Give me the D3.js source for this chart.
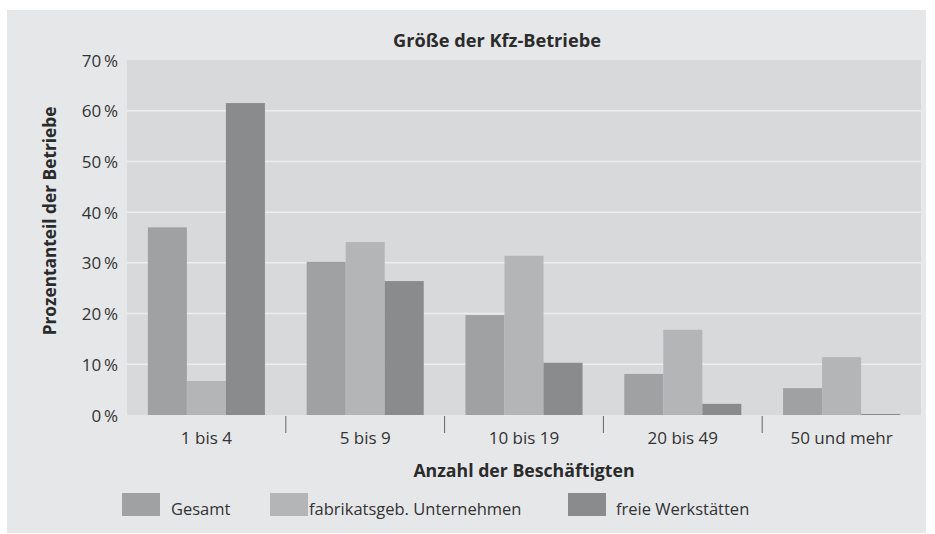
<!DOCTYPE html>
<html>
<head>
<meta charset="utf-8">
<script src="https://cdn.jsdelivr.net/npm/d3@7"></script>
<style>
  body { margin: 0; background: #fff; }
  text { font-family: "Open Sans", sans-serif; fill: #2b2b2b; }
</style>
</head>
<body>
<div id="chart"></div>
<script>
// data
var categories = ["1 bis 4", "5 bis 9", "10 bis 19", "20 bis 49", "50 und mehr"];
var seriesNames = ["Gesamt", "fabrikatsgeb. Unternehmen", "freie Werkstätten"];
var gesamt = [37.0, 30.2, 19.7, 8.1, 5.3];
var fabrikat = [6.7, 34.1, 31.4, 16.8, 11.4];
var freie = [61.5, 26.4, 10.3, 2.2, 0.2];
var yTicks = [0, 10, 20, 30, 40, 50, 60, 70];

var colors = ["#a0a1a3", "#b4b5b7", "#8a8b8d"];
var seriesValues = [gesamt, fabrikat, freie];

var W = 935, H = 534;
var margin = {top: 60, right: 14, bottom: 119, left: 127};
var width = 921 - margin.left,
    height = 415 - margin.top;

var svg = d3.select("#chart").append("svg")
  .attr("width", W)
  .attr("height", H);

// outer panel
svg.append("rect")
  .attr("x", 7).attr("y", 10)
  .attr("width", 919).attr("height", 523)
  .attr("fill", "#e6e7e9");

var g = svg.append("g")
  .attr("transform", "translate(" + margin.left + "," + margin.top + ")");

var x0 = d3.scaleBand()
  .domain(categories)
  .range([0, width])
  .paddingInner(0)
  .paddingOuter(0);

var x1 = d3.scaleBand()
  .domain(seriesNames)
  .range([0, x0.bandwidth()])
  .paddingInner(0)
  .paddingOuter(0.535);

var y = d3.scaleLinear()
  .domain([0, 70])
  .range([height, 0]);

// plot background
g.append("rect")
  .attr("width", width).attr("height", height)
  .attr("fill", "#d8d9db");

// gridlines
g.selectAll(".grid")
  .data(yTicks.filter(function(d) { return d > 0 && d < 70; }))
  .join("line")
  .attr("x1", 0).attr("x2", width)
  .attr("y1", function(d) { return y(d); })
  .attr("y2", function(d) { return y(d); })
  .attr("stroke", "#ecedee")
  .attr("stroke-width", 1.5);

// bars
var rows = categories.map(function(c, i) {
  return { cat: c, vals: seriesNames.map(function(s, j) { return {key: s, idx: j, v: seriesValues[j][i]}; }) };
});

g.selectAll(".grp")
  .data(rows)
  .join("g")
  .attr("transform", function(d) { return "translate(" + x0(d.cat) + ",0)"; })
  .selectAll("rect")
  .data(function(d) { return d.vals; })
  .join("rect")
  .attr("x", function(d) { return x1(d.key); })
  .attr("width", x1.bandwidth())
  .attr("y", function(d) { return y(d.v); })
  .attr("height", function(d) { return height - y(d.v); })
  .attr("fill", function(d) { return colors[d.idx]; });

// y axis
var yAxis = g.append("g")
  .call(d3.axisLeft(y).tickValues(yTicks).tickSize(0).tickPadding(9)
    .tickFormat(function(d) { return d + "\u2009%"; }));
yAxis.select(".domain").remove();
yAxis.selectAll("text")
  .style("font-size", "17px")
  .attr("dy", "0.36em")
  .style("fill", "#333");

// x axis labels
var xAxis = g.append("g")
  .attr("transform", "translate(0," + height + ")")
  .call(d3.axisBottom(x0).tickSize(0).tickPadding(17));
xAxis.select(".domain").remove();
xAxis.selectAll("text")
  .style("font-size", "17px")
  .style("fill", "#333");

// separators between categories
g.selectAll(".sep")
  .data(categories.slice(1))
  .join("line")
  .attr("x1", function(d) { return x0(d); })
  .attr("x2", function(d) { return x0(d); })
  .attr("y1", height + 1)
  .attr("y2", height + 18)
  .attr("stroke", "#666")
  .attr("stroke-width", 1);

// title
svg.append("text")
  .attr("x", 497).attr("y", 47)
  .attr("text-anchor", "middle")
  .style("font-size", "18.2px")
  .style("font-weight", "bold")
  .text("Größe der Kfz-Betriebe");

// x title
svg.append("text")
  .attr("x", margin.left + width / 2).attr("y", 477)
  .attr("text-anchor", "middle")
  .style("font-size", "17.7px")
  .style("font-weight", "bold")
  .text("Anzahl der Beschäftigten");

// y title
svg.append("text")
  .attr("transform", "translate(56,221) rotate(-90)")
  .attr("text-anchor", "middle")
  .style("font-size", "17.3px")
  .style("font-weight", "bold")
  .text("Prozentanteil der Betriebe");

// legend
var legendX = [122, 270, 568];
var leg = svg.selectAll(".leg")
  .data(seriesNames)
  .join("g")
  .attr("transform", function(d, i) { return "translate(" + legendX[i] + ",493)"; });
leg.append("rect")
  .attr("width", 38).attr("height", 23)
  .attr("fill", function(d, i) { return colors[i]; });
leg.append("text")
  .attr("x", function(d, i) { return i === 0 ? 49 : (i === 1 ? 39 : 48); })
  .attr("y", 22)
  .style("font-size", "16.5px")
  .style("fill", "#333")
  .text(function(d) { return d; });
</script>
</body>
</html>
